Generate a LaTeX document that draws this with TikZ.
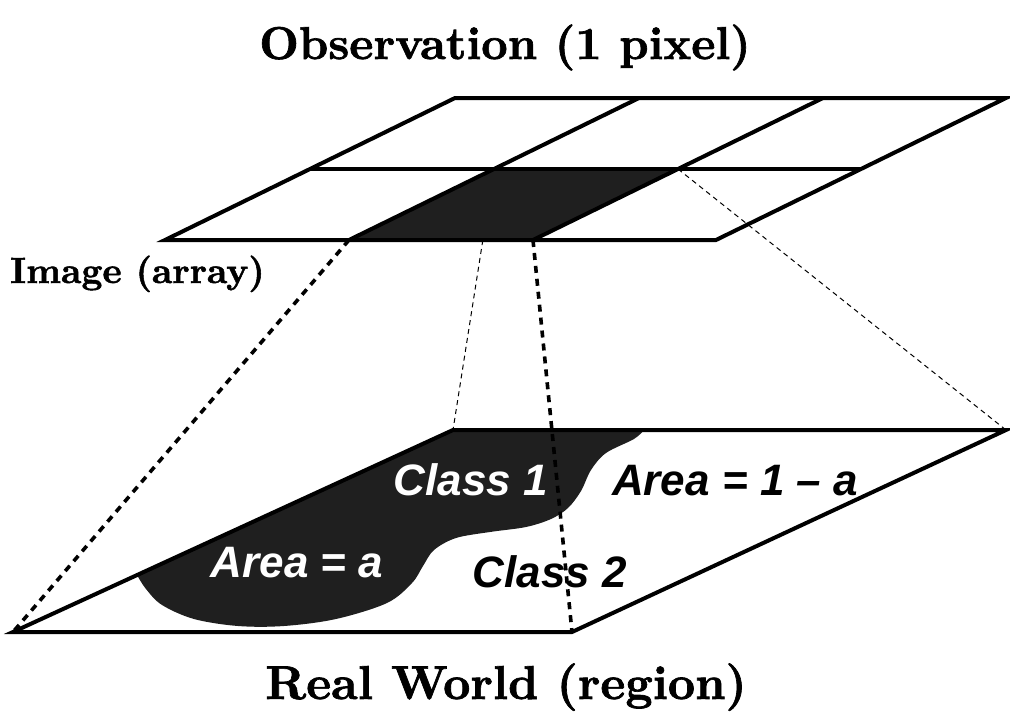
\documentclass[tikz,border=0pt]{standalone}
\usepackage{fontspec}
\newfontfamily\labfont{Liberation Sans}
\newfontfamily\titlefont{lmroman10-bold.otf}[FakeBold=1.4]
\begin{document}
\begin{tikzpicture}[x=1pt,y=-1pt,
  gridline/.style={line width=4pt,line join=miter},
  thickdash/.style={line width=3.6pt,dash pattern=on 7pt off 6pt},
  thindash/.style={line width=1pt,dash pattern=on 5pt off 4pt},
  title/.style={font=\titlefont\fontsize{46}{52}\selectfont,anchor=base,inner sep=0pt},
  sublabel/.style={font=\titlefont\fontsize{36.5}{42}\selectfont,anchor=base west,inner sep=0pt},
  arealabel/.style={font=\labfont\fontsize{44}{50}\selectfont\bfseries\itshape,anchor=base,inner sep=0pt},
  blob/.style={fill=black!88}
]
\useasboundingbox (0,0) rectangle (1010,712);
% grid coordinates
\coordinate (t0) at (455,98);  \coordinate (t1) at (639,98);  \coordinate (t2) at (823,98);  \coordinate (t3) at (1006,98);
\coordinate (m0) at (310,169); \coordinate (m1) at (494,169); \coordinate (m2) at (678,169); \coordinate (m3) at (861,169);
\coordinate (b0) at (165,240); \coordinate (b1) at (349,240); \coordinate (b2) at (533,240); \coordinate (b3) at (716,240);
% lower region
\coordinate (ltl) at (453,430); \coordinate (ltr) at (1006,430);
\coordinate (lbr) at (572,632); \coordinate (lbl) at (13,632);
% projection lines
\draw[thindash] (m1) -- (ltl);
\draw[thindash] (m2) -- (ltr);
\draw[thickdash] (b1) -- (lbl);
% black cell
\fill[blob] (m1) -- (m2) -- (b2) -- (b1) -- cycle;
% grid
\draw[gridline] (t0) -- (t3) -- (b3) -- (b0) -- cycle;
\draw[gridline] (m0) -- (m3);
\draw[gridline] (t1) -- (b1);
\draw[gridline] (t2) -- (b2);
% class 1 region
\fill[blob] (ltl) -- plot[smooth,tension=0.55] coordinates {(644,430) (634,439) (606,453) (591,470) (581,491) (568,508) (551,519) (526,527) (490,532) (456,538) (434,550) (423,566) (412,583) (387,603) (336,619) (284,626) (238,626) (194,619) (162,605) (146,589) (137,575)} -- cycle;
\draw[gridline] (ltl) -- (ltr) -- (lbr) -- (lbl) -- cycle;
% labels
\node[arealabel,text=white] (c1) at (471,495) {Class 1};
\node[arealabel] (a1) at (735,495) {Area = 1 – a};
\node[arealabel,text=white] (aa) at (297,577) {Area = a};
\node[arealabel] (c2) at (550,587) {Class 2};
\draw[thickdash] (b2) -- (lbr);
\node[title] (obs) at (505,59) {Observation (1 pixel)};
\node[title,font=\titlefont\fontsize{47.5}{54}\selectfont] (rw) at (506,699) {Real World (region)};
\node[sublabel] (img) at (10,283) {Image (array)};
\end{tikzpicture}
\end{document}
